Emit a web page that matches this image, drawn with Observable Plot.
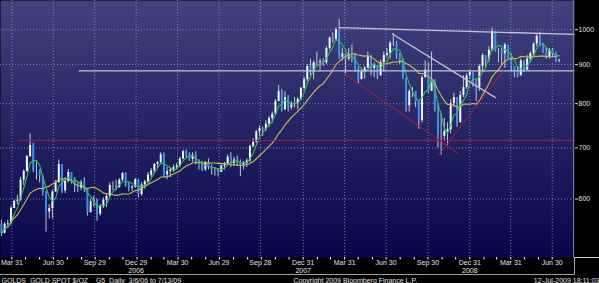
<!DOCTYPE html>
<html><head><meta charset="utf-8">
<script src="https://cdn.jsdelivr.net/npm/d3@7"></script>
<script src="https://cdn.jsdelivr.net/npm/@observablehq/plot@0.6"></script>
<style>html,body{margin:0;padding:0;background:#000;overflow:hidden}svg{display:block}</style>
</head><body><div id="chart"></div>
<script>
// ---- Data (weekly) ----
const firstWeek = "2006-03-06";
const lastWeek = "2009-07-13";
const firstOpen = 556;
const closes = [
541,556,557,583,596,598,635,652,682,705,655,655,643,612,577,583,613,630,666,615,633,650,636,624,620,630,618,576,595,598,573,586,598,605,625,625,621,635,648,625,620,622,636,
608,626,632,645,653,666,670,686,645,652,655,660,663,677,692,685,676,685,667,665,655,670,660,655,655,650,663,667,681,668,675,670,665,668,673,703,712,735,742,740,752,765,775,805,830,785,815,790,800,800,810,838,
860,895,880,905,905,908,905,945,975,970,1000,920,930,915,925,925,888,860,880,890,920,890,898,870,905,925,930,960,960,925,910,865,795,830,830,805,760,865,885,830,860,785,725,725,735,740,800,815,755,820,840,870,880,
855,840,895,925,915,940,995,940,940,930,955,925,895,880,870,910,885,915,930,958,980,958,935,920,940,930,910,912];
const highs = [
563,559,563,587,598,607,640,655,684,730,710,670,655,640,614,590,616,635,675,665,640,656,650,640,632,635,640,610,600,605,600,590,602,610,630,632,635,638,650,650,630,625,638,
637,630,635,650,658,668,672,690,690,660,660,665,668,680,695,695,690,690,692,675,672,672,677,665,660,658,665,670,685,690,680,683,675,672,677,706,720,738,748,745,760,770,780,810,845,835,830,820,805,815,815,840,
867,900,915,910,935,915,915,950,978,990,1005,1032,945,930,945,955,930,893,890,895,935,925,905,890,912,935,945,965,988,965,930,915,855,835,840,830,805,870,910,905,935,850,800,775,765,755,810,825,810,830,870,875,885,
880,860,900,930,920,950,1005,995,945,945,960,945,930,890,895,915,910,925,935,960,985,992,960,945,945,945,935,915];
const lows = [
536,540,549,555,583,590,596,625,650,680,650,635,630,605,543,565,565,612,630,610,610,630,628,612,612,615,612,570,575,585,561,570,583,585,603,615,615,620,632,622,613,614,620,
602,605,618,628,640,648,658,665,640,636,640,650,655,660,675,678,672,670,665,655,652,652,655,645,643,641,650,655,664,660,662,662,642,655,660,670,700,710,725,725,735,745,755,775,805,780,785,780,785,790,785,808,
834,855,870,860,895,880,895,900,940,960,965,915,910,875,910,905,880,850,860,862,890,870,865,860,870,880,920,915,950,915,900,860,780,780,815,790,740,755,865,825,830,780,700,685,715,705,730,790,745,760,815,835,860,
840,805,830,880,890,905,935,935,905,895,890,915,880,865,865,870,880,885,905,925,950,950,930,915,915,920,905,905];

// moving-average windows (weeks)
const fastWindow = 4;
const slowWindow = 14;

// trend lines drawn on the chart
const trendKind = ["upper","upper","upper","lower","lower","level"];
const trendStartDate = ["2006-08-25","2008-03-18","2008-07-13","2008-03-29","2008-10-24","2006-04-13"];
const trendStartPrice = [883,1006,988,877,685,716];
const trendEndDate = ["2009-08-18","2009-08-18","2009-02-26","2008-12-07","2009-03-15","2009-08-18"];
const trendEndPrice = [883,986,814,687,884,716];

// axes
const priceTicks = [600,700,800,900,1000];
const quarterDates = ["2006-03-31","2006-06-30","2006-09-29","2006-12-29","2007-03-30","2007-06-29","2007-09-28","2007-12-31","2008-03-31","2008-06-30","2008-09-30","2008-12-31","2009-03-31","2009-06-30"];
const quarterLabels = ["Mar 31","Jun 30","Sep 29","Dec 29","Mar 30","Jun 29","Sep 28","Dec 31","Mar 31","Jun 30","Sep 30","Dec 31","Mar 31","Jun 30"];
const yearDates = ["2006-12-29","2007-12-31","2008-12-31"];
const yearLabels = ["2006","2007","2008"];
const xDomain = ["2006-03-06","2009-08-18"];
const yDomain = [503,1092];
const footerLeft = "GOLDS  GOLD SPOT $/OZ    G5  Daily  3/6/06 to 7/13/09";
const footerMid = "Copyright 2009 Bloomberg Finance L.P.";
const footerRight = "12-Jul-2009 18:11:03";

// ---- Build tables ----
const parse = d3.utcParse("%Y-%m-%d");
const mondays = d3.utcMonday.range(parse(firstWeek), d3.utcDay.offset(parse(lastWeek), 1));
const weeks = mondays.map((d, i) => ({
  date: d3.utcDay.offset(d, 2),
  open: i ? closes[i - 1] : firstOpen,
  close: closes[i], high: highs[i], low: lows[i]
}));
const trends = trendKind.map((k, i) => ({
  kind: k, x1: parse(trendStartDate[i]), y1: trendStartPrice[i],
  x2: parse(trendEndDate[i]), y2: trendEndPrice[i]
}));
const quarters = quarterDates.map((d, i) => ({date: parse(d), label: quarterLabels[i]}));
const years = yearDates.map((d, i) => ({date: parse(d), label: yearLabels[i]}));
const monthTicks = d3.utcMonth.range(parse("2006-04-01"), parse("2009-08-01")).map(d => d3.utcDay.offset(d, -1));

const trendColor = {upper: "#c4c4d4", lower: "#b01c44", level: "#a81a40"};
const trendWidth = {upper: 1.3, lower: 1, level: 1};
const gridStyle = {stroke: "#9a9ad0", strokeOpacity: 0.75, strokeDasharray: "1,2"};
const txt = "#e0e0e0";
const narrow = "'Liberation Sans Narrow', 'Liberation Sans', Arial, sans-serif";

const plot = Plot.plot({
  width: 599, height: 283,
  marginLeft: 0, marginRight: 25, marginTop: 0, marginBottom: 26,
  style: {background: "#000", color: txt, fontFamily: "'Liberation Sans', Arial, sans-serif", fontSize: "7px"},
  x: {type: "utc", domain: xDomain.map(parse), axis: null},
  y: {type: "log", domain: yDomain, axis: null},
  marks: [
    Plot.frame({fill: "#1a1a60"}),
    Plot.gridX(quarters.map(d => d.date), gridStyle),
    Plot.gridY(priceTicks, gridStyle),
    Plot.ruleX(weeks, {x: "date", y1: "low", y2: "high", stroke: "#c4c6dc", strokeWidth: 1}),
    Plot.ruleX(weeks, {x: "date", y1: "open", y2: "close", strokeWidth: 2,
      stroke: d => d.close >= d.open ? "#f2f2f8" : "#3a8ef0"}),
    Plot.lineY(weeks, Plot.windowY({k: slowWindow, anchor: "end"}, {x: "date", y: "close", stroke: "#c8c048", strokeWidth: 1.1})),
    Plot.lineY(weeks, Plot.windowY({k: fastWindow, anchor: "end"}, {x: "date", y: "close", stroke: "#2cc44e", strokeWidth: 1.1})),
    Plot.link(trends, {x1: "x1", y1: "y1", x2: "x2", y2: "y2", stroke: d => trendColor[d.kind], strokeWidth: d => trendWidth[d.kind]}),
    Plot.axisY(priceTicks, {anchor: "right", tickSize: 3, tickPadding: 1, stroke: txt, fill: txt, fontSize: 7, label: null, tickFormat: d => String(d)}),
    Plot.axisX(monthTicks, {anchor: "bottom", tickSize: 2.5, stroke: "#ffffff", label: null, tickFormat: () => ""}),
    Plot.text(quarters, {x: "date", text: "label", frameAnchor: "bottom", dy: 5.5, lineAnchor: "middle", fill: txt, fontSize: 7}),
    Plot.text(years, {x: "date", text: "label", frameAnchor: "bottom", dy: 13.5, lineAnchor: "middle", fill: txt, fontSize: 7}),
    Plot.text([footerLeft], {text: d => d, frameAnchor: "bottom-left", dx: 1, dy: 23, lineAnchor: "middle", textAnchor: "start", fill: txt, fontSize: 7, fontFamily: narrow}),
    Plot.text([footerMid], {text: d => d, frameAnchor: "bottom-left", dx: 293, dy: 23, lineAnchor: "middle", textAnchor: "start", fill: txt, fontSize: 7, fontFamily: narrow}),
    Plot.text([footerRight], {text: d => d, frameAnchor: "bottom-right", dx: 25, dy: 23, lineAnchor: "middle", textAnchor: "end", fill: txt, fontSize: 7, fontFamily: narrow})
  ]
});
document.getElementById("chart").appendChild(plot);

// background gradient and chrome lines
const svg = d3.select(plot);
const defs = svg.insert("defs", ":first-child");
const lg = defs.append("linearGradient").attr("id", "bggrad").attr("x1", 0).attr("y1", 0).attr("x2", 0).attr("y2", 1);
lg.append("stop").attr("offset", "0%").attr("stop-color", "#42427f");
lg.append("stop").attr("offset", "100%").attr("stop-color", "#06064a");
svg.selectAll('[aria-label="frame"], [aria-label="frame"] rect').attr("fill", "url(#bggrad)");
const [xl, xr] = plot.scale("x").range;
const yb = plot.scale("y").range[0];
const chrome = svg.append("g").attr("stroke", "#a0a0a0").attr("stroke-width", 1).attr("fill", "none");
chrome.append("line").attr("x1", xl).attr("x2", xr + 0.5).attr("y1", yb + 17.5).attr("y2", yb + 17.5);
chrome.append("line").attr("x1", xr + 0.5).attr("x2", xr + 0.5).attr("y1", yb).attr("y2", yb + 17.5);
chrome.append("line").attr("x1", xr).attr("x2", 599).attr("y1", yb + 0.5).attr("y2", yb + 0.5).attr("stroke", "#d0d0d0");
chrome.append("line").attr("x1", xr - 0.5).attr("x2", xr - 0.5).attr("y1", 0).attr("y2", yb).attr("stroke", "#7a7aa8");
</script>
</body></html>
